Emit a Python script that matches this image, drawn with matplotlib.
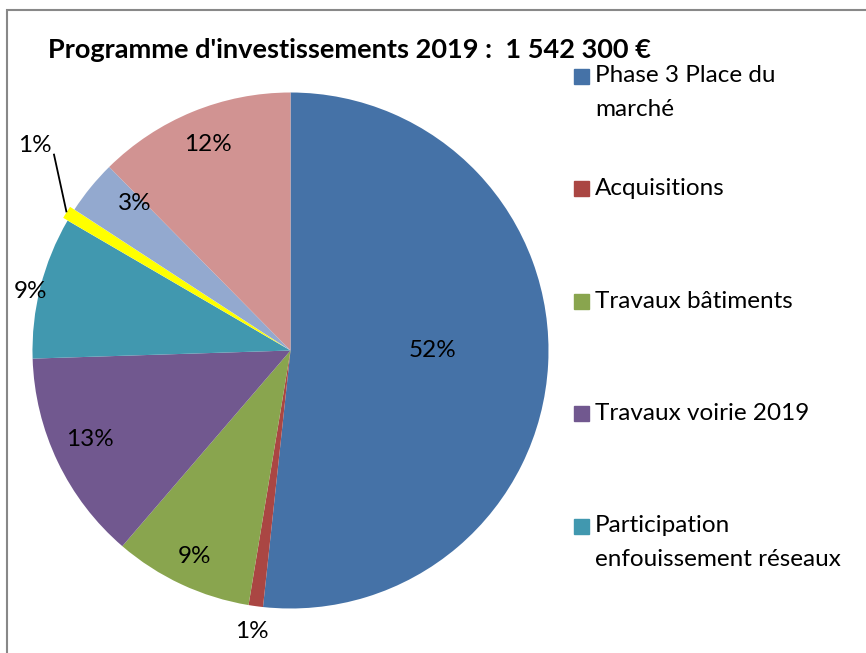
import matplotlib
matplotlib.use("Agg")
import matplotlib.pyplot as plt
from matplotlib.patches import Rectangle
import numpy as np

plt.rcParams['font.family'] = ['Lato', 'DejaVu Sans']

title = "Programme d'investissements 2019 :  1 542 300 €"
categories = ["Phase 3 Place du\nmarché", "Acquisitions", "Travaux bâtiments",
              "Travaux voirie 2019", "Participation\nenfouissement réseaux",
              "Éclairage public", "Matériel", "Études et divers"]
shares = [51.7, 0.9, 8.7, 13.2, 8.9, 0.8, 3.4, 12.4]
colors = ["#4572A7", "#AA4643", "#89A54E", "#71588F", "#4198AF",
          "#FFFF00", "#93A9CF", "#D19392"]
explode = [0, 0, 0, 0, 0, 0.02, 0, 0]
label_radius = [0.55, 1.10, 0.88, 0.85, 1.035, 1.27, 0.83, 0.86]
label_angle_shift = [3, 0, 0, -1.5, 1.5, -7, -4, -0.5]
legend_shown = 5

W, H = 866, 653
fig = plt.figure(figsize=(W / 100, H / 100), dpi=100)
cx, cy, r = 290.5, 350.5, 258
ax = fig.add_axes([(cx - r) / W, (H - cy - r) / H, 2 * r / W, 2 * r / H])
wedges, _ = ax.pie(shares, colors=colors, startangle=90, counterclock=False,
                   explode=explode, radius=1,
                   wedgeprops=dict(linewidth=0))
ax.set_xlim(-1, 1)
ax.set_ylim(-1, 1)
ax.set_aspect('auto')
ax.axis('off')

for i, w in enumerate(wedges):
    mid = np.deg2rad((w.theta1 + w.theta2) / 2 + label_angle_shift[i])
    lx, ly = label_radius[i] * np.cos(mid), label_radius[i] * np.sin(mid)
    ax.text(lx, ly, f"{shares[i]:.0f}%", ha='center', va='center',
            fontsize=17.5, color='black', clip_on=False)
    if label_radius[i] > 1.2:
        tip = np.deg2rad((w.theta1 + w.theta2) / 2)
        tx, ty = 1.02 * np.cos(tip), 1.02 * np.sin(tip)
        ax.plot([lx + 0.074, tx], [ly - 0.031, ty], color='black', lw=1.3,
                clip_on=False, solid_capstyle='butt')

fig.text(48 / W, 1 - 50 / H, title, fontsize=19.5, fontweight='bold',
         ha='left', va='center')

for i in range(legend_shown):
    y0 = 76 + i * 112.5
    fig.patches.append(Rectangle((574 / W, 1 - (y0 + 7.5) / H), 15 / W, 15 / H,
                                 transform=fig.transFigure, color=colors[i]))
    for j, line in enumerate(categories[i].split("\n")):
        fig.text(595 / W, 1 - (y0 + j * 34) / H, line, fontsize=17.5,
                 ha='left', va='center')

fig.patches.append(Rectangle((7 / W, -0.1), 1.2, 1 - 9.5 / H + 0.1,
                             transform=fig.transFigure, fill=False,
                             edgecolor='#888888', lw=1.5))

fig.savefig("out.png", dpi=100)
